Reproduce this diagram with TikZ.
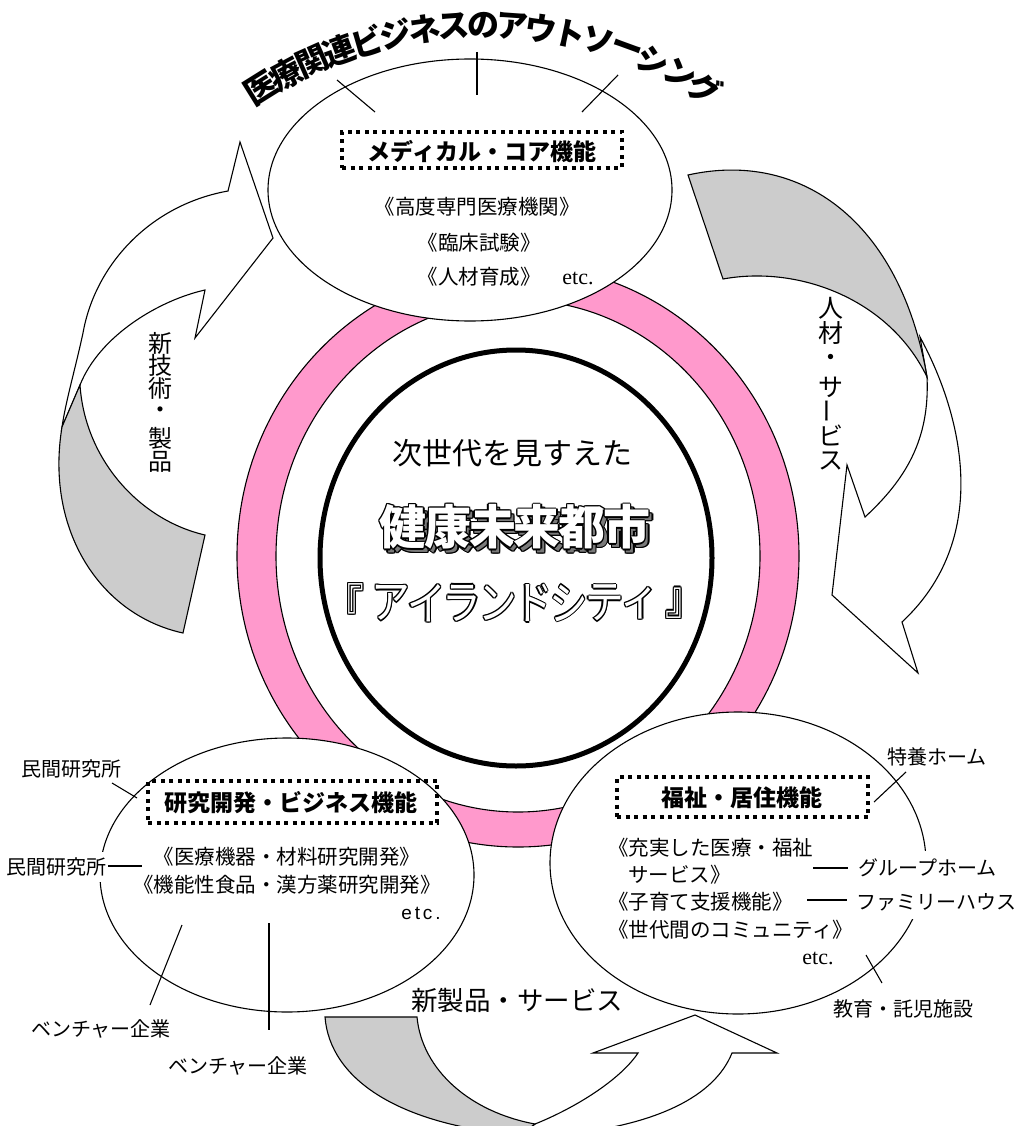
\documentclass[tikz,border=0pt]{standalone}
\usepackage{fontspec}
\usepackage{graphicx}
\setmainfont{Noto Sans CJK JP}
\newfontfamily\latinserif{Liberation Serif}
\newfontfamily\latinsans[LetterSpace=15]{Liberation Sans}
\newcommand\setfs[1]{\fontsize{#1}{#1}\selectfont}
\usetikzlibrary{shapes.geometric}
\definecolor{ringpink}{HTML}{FF99CC}
\definecolor{backgray}{HTML}{CCCCCC}
\definecolor{shadowgray}{HTML}{7A7A7A}
\tikzset{
  outl/.style={draw=black, line width=1.1pt},
  bubble/.style={ellipse, draw=black, line width=1.1pt, fill=white, inner sep=0pt},
  dotbox/.style={draw=black, line width=3.5pt, dash pattern=on 4pt off 4.5pt, inner sep=0pt},
  tickline/.style={draw=black, line width=1.1pt},
  bodytxt/.style={inner sep=0pt, font=\setfs{20.5}},
  boxtitle/.style={inner sep=0pt, font=\bfseries\setfs{23}},
  sidelabel/.style={inner sep=1.5pt, fill=white, font=\setfs{20}},
}
\newcommand\outlinetext[5]{%
  \foreach \ox/\oy in {1.3/0,-1.3/0,0/1.3,0/-1.3,0.9/0.9,-0.9/0.9,0.9/-0.9,-0.9/-0.9}
    {\node[inner sep=0pt, font=#3, text=black, xshift=\ox pt, yshift=\oy pt] at #2 {#5};}
  \node[inner sep=0pt, font=#3, text=#4] (#1) at #2 {#5};
}
\begin{document}
\begin{tikzpicture}[x=1pt,y=-1pt]
\useasboundingbox (0,0) rectangle (1019,1126);
\fill[white] (0,0) rectangle (1019,1126);

% ---------- curved block arrows ----------
\begin{scope}
\clip (0,0) rectangle (1019,1126);
% left arrow (new technology / products)
\draw[outl, fill=white] (228,191) -- (240,142) -- (273,238) -- (195,338) -- (205,290)
  .. controls (160,300) and (100,335) .. (80,385) -- (62,427)
  .. controls (66,400) and (75,370) .. (83,333)
  .. controls (95,265) and (150,205) .. (228,191) -- cycle;
\draw[outl, fill=backgray] (80,385) .. controls (85,460) and (140,520) .. (205,535)
  -- (183,633) .. controls (100,615) and (45,530) .. (62,427) -- cycle;
% right arrow (people / services)
\draw[outl, fill=white] (920,337) .. controls (965,420) and (990,540) .. (902,622)
  -- (918,673) -- (832,595) -- (847,465) -- (865,517)
  .. controls (905,480) and (930,440) .. (927,377) -- cycle;
\draw[outl, fill=backgray] (688,175) .. controls (800,150) and (900,220) .. (927,377)
  .. controls (890,300) and (800,265) .. (723,279) -- cycle;
% bottom arrow (new products / services)
\draw[outl, fill=white] (535,1124) .. controls (575,1108) and (620,1080) .. (638,1053)
  -- (593,1053) -- (695,1015) -- (777,1053) -- (732,1053)
  .. controls (715,1095) and (660,1125) .. (560,1135) -- (520,1135) -- cycle;
\draw[outl, fill=backgray] (325,1017) -- (417,1017) .. controls (422,1070) and (470,1112) .. (535,1124)
  -- (520,1135) .. controls (400,1125) and (330,1080) .. (325,1017) -- cycle;
\end{scope}

% ---------- pink ring and central circle ----------
\node[ellipse, outl, fill=ringpink, inner sep=0pt, minimum width=562pt, minimum height=582pt] (ringout) at (518,556) {};
\node[ellipse, outl, fill=white, inner sep=0pt, minimum width=484pt, minimum height=512pt] (ringin) at (518,556) {};
\node[ellipse, draw=black, line width=5pt, inner sep=0pt, minimum width=392pt, minimum height=416pt] (city) at (516,558) {};

% ---------- three function bubbles ----------
\node[bubble, minimum width=404pt, minimum height=262pt] (core) at (470,190) {};
\node[bubble, minimum width=374pt, minimum height=274pt] (research) at (287,875) {};
\node[bubble, minimum width=376pt, minimum height=302pt] (welfare) at (738,863) {};

% ---------- curved title ----------
\foreach \c [count=\i from 0] in {医,療,関,連,ビ,ジ,ネ,ス,の,ア,ウ,ト,ソ,ー,シ,ン,グ} {
  \pgfmathsetmacro\th{-32+4*\i}
  \pgfmathsetmacro\rt{32-4*\i}
  \node[inner sep=0pt, font=\bfseries\setfs{32}, rotate=\rt] (arc\i)
    at ({483+419*sin(\th)},{444-419*cos(\th)}) {\c};
}

% ---------- top bubble contents ----------
\node[dotbox, minimum width=280pt, minimum height=36pt] (corebox) at (482,150) {};
\node[boxtitle] (coretitle) at (482,151) {メディカル・コア機能};
\node[bodytxt] (core1) at (477,207) {《高度専門医療機関》};
\node[bodytxt] (core2) at (479,243) {《臨床試験》};
\node[bodytxt] (core3) at (479,277) {《人材育成》};
\node[inner sep=0pt, font=\latinserif\setfs{22}] (coreetc) at (578,278) {etc.};
\coordinate (ct1a) at (337,80);  \coordinate (ct1b) at (375,112);
\coordinate (ct2a) at (477,52);  \coordinate (ct2b) at (477,95);
\coordinate (ct3a) at (618,75);  \coordinate (ct3b) at (582,112);
\draw[tickline] (ct1a) -- (ct1b);
\draw[tickline] (ct2a) -- (ct2b);
\draw[tickline] (ct3a) -- (ct3b);

% ---------- research bubble contents ----------
\node[dotbox, minimum width=289pt, minimum height=42pt] (resbox) at (292.5,802) {};
\node[boxtitle] (restitle) at (291,803) {研究開発・ビジネス機能};
\node[bodytxt] (res1) at (287,857) {《医療機器・材料研究開発》};
\node[bodytxt] (res2) at (287,885) {《機能性食品・漢方薬研究開発》};
\node[inner sep=0pt, font=\latinsans\setfs{19}] (resetc) at (421,913) {etc.};
\node[sidelabel] (lab1) at (71,769) {民間研究所};
\node[sidelabel, anchor=east, inner ysep=6pt] (lab2) at (108,867) {民間研究所};
\node[sidelabel] (lab3) at (101,1029) {ベンチャー企業};
\node[sidelabel] (lab4) at (238,1066) {ベンチャー企業};
\coordinate (rt1a) at (112,783); \coordinate (rt1b) at (137,798);
\coordinate (rt2b) at (142,866);
\coordinate (rt3a) at (182,925); \coordinate (rt3b) at (150,1005);
\coordinate (rt4a) at (269,923); \coordinate (rt4b) at (269,1030);
\draw[tickline] (rt1a) -- (rt1b);
\draw[tickline] (lab2.east |- rt2b) -- (rt2b);
\draw[tickline] (rt3a) -- (rt3b);
\draw[tickline] (rt4a) -- (rt4b);

% ---------- welfare bubble contents ----------
\node[dotbox, minimum width=251pt, minimum height=40pt] (welbox) at (742.5,797) {};
\node[boxtitle] (weltitle) at (742,798) {福祉・居住機能};
\node[bodytxt, anchor=west] (wel1) at (608,848) {《充実した医療・福祉};
\node[bodytxt, anchor=west] (wel2) at (628,875) {サービス》};
\node[bodytxt, anchor=west] (wel3) at (608,902) {《子育て支援機能》};
\node[bodytxt, anchor=west] (wel4) at (608,930) {《世代間のコミュニティ》};
\node[inner sep=0pt, font=\latinserif\setfs{22}] (weletc) at (818,958) {etc.};
\node[sidelabel] (lab5) at (937,757) {特養ホーム};
\node[sidelabel, anchor=west, inner ysep=8pt] (lab6) at (857,868) {グループホーム};
\node[sidelabel, anchor=west, inner ysep=8pt] (lab7) at (855,902) {ファミリーハウス};
\node[sidelabel] (lab8) at (903,1009) {教育・託児施設};
\coordinate (wt1a) at (906,772); \coordinate (wt1b) at (874,802);
\coordinate (wt2a) at (813,868); \coordinate (wt2b) at (848,868);
\coordinate (wt3a) at (807,900); \coordinate (wt3b) at (847,900);
\coordinate (wt4a) at (866,955); \coordinate (wt4b) at (882,983);
\draw[tickline] (wt1a) -- (wt1b);
\draw[tickline] (wt2a) -- (wt2b);
\draw[tickline] (wt3a) -- (wt3b);
\draw[tickline] (wt4a) -- (wt4b);

% ---------- arrow labels ----------
\foreach \c/\yy [count=\i] in {人/308,材/333,・/360,サ/387,ビ/435,ス/461}
  {\node[inner sep=0pt, font=\setfs{25}] (hz\i) at (831,\yy) {\c};}
\node[inner sep=0pt, font=\setfs{25}, rotate=90] (hzbar) at (831,411) {ー};
\foreach \c/\yy [count=\i] in {新/343,技/365,術/388,・/413,製/438,品/462}
  {\node[inner sep=0pt, font=\setfs{24}] (gj\i) at (160,\yy) {\c};}
\node[inner sep=0pt, font=\setfs{26.5}] (newprod) at (517,1000) {新製品・サービス};

% ---------- centre texts ----------
\node[inner sep=0pt, font=\setfs{30}] (nextgen) at (512,453) {次世代を見すえた};
\foreach \c [count=\i from 0] in {健,康,未,来,都,市} {
  \pgfmathsetmacro\xx{403.25+44.7*\i}
  \outlinetext{shadow\i}{(\xx+3.5,530.5)}{\bfseries\setfs{47}}{shadowgray}{\c}
  \outlinetext{big\i}{(\xx,527)}{\bfseries\setfs{47}}{white}{\c}
}
\foreach \c/\xx [count=\i] in {『/345,ア/391,イ/426.6,ラ/462.2,ン/497.8,ド/533.4,シ/569,テ/604.6,ィ/640.2,』/685} {
  \outlinetext{isl\i}{(\xx,603)}{\setfs{46}}{white}{\scalebox{0.84}[1]{\c}}
}
\end{tikzpicture}
\end{document}
